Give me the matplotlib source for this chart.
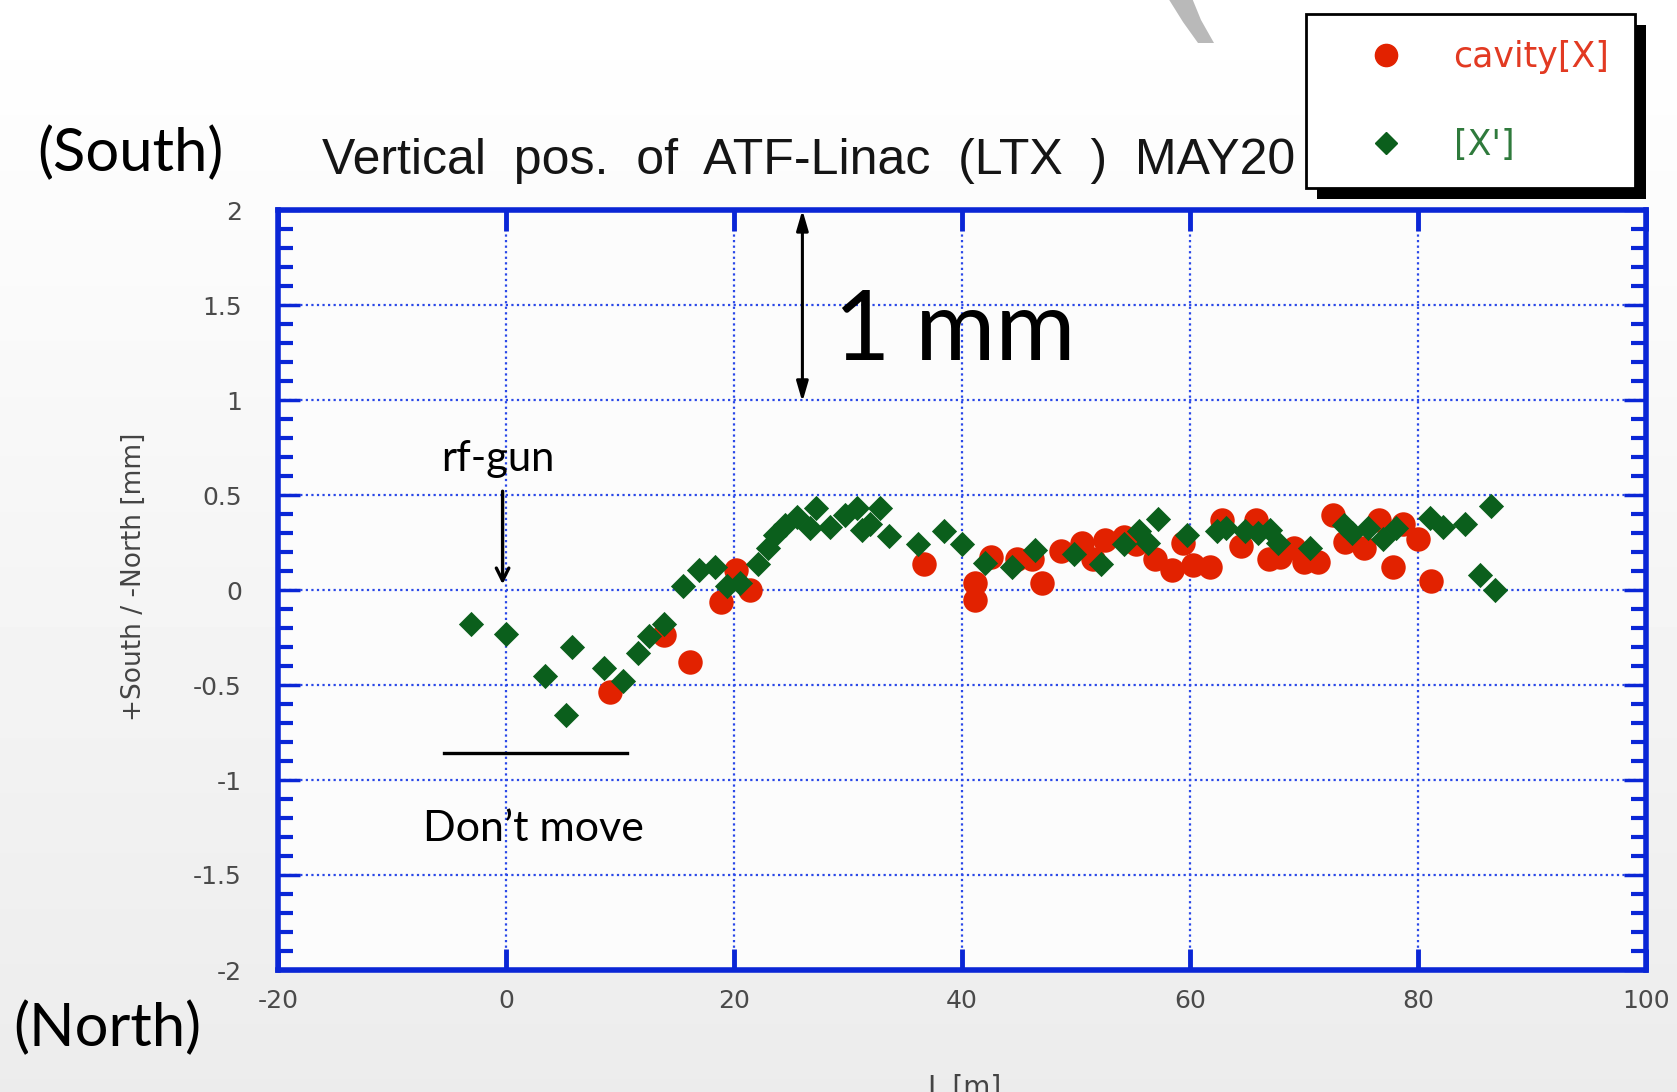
import matplotlib
matplotlib.use("Agg")
import matplotlib.pyplot as plt
import numpy as np
from matplotlib.lines import Line2D
from matplotlib.patches import Rectangle, Polygon

plt.rcParams['axes.unicode_minus'] = False

# cavity[X] (red circles)
cav_x = [9.1, 13.9, 16.1, 18.9, 20.2, 21.4, 36.7, 41.1, 41.1, 42.5, 44.8, 46.1,
         47.0, 48.7, 50.5, 51.5, 52.5, 54.2, 55.3, 56.9, 58.4, 59.4, 60.3, 61.75,
         62.8, 64.5, 65.8, 66.9, 67.9, 69.1, 70.0, 71.2, 72.5, 73.6, 75.3, 76.6,
         77.8, 78.7, 80.0, 81.1]
cav_y = [-0.535, -0.235, -0.38, -0.065, 0.105, 0.0, 0.135, 0.035, -0.05, 0.175, 0.165, 0.165,
         0.035, 0.205, 0.25, 0.165, 0.265, 0.28, 0.24, 0.165, 0.105, 0.245, 0.13, 0.12,
         0.37, 0.23, 0.37, 0.165, 0.175, 0.22, 0.15, 0.15, 0.395, 0.255, 0.22, 0.37,
         0.12, 0.35, 0.27, 0.05]

# [X'] (green diamonds)
xp_x = [-3.1, 0.0, 3.4, 5.8, 5.3, 8.6, 10.3, 11.6, 12.5, 13.9, 15.55, 16.9, 18.3,
        19.35, 20.5, 22.1, 23.0, 23.6, 24.5, 25.5, 26.7, 27.2, 28.4, 29.7, 30.75,
        31.2, 31.9, 32.8, 33.6, 36.1, 38.4, 40.0, 42.0, 44.4, 46.4, 49.8, 52.2,
        54.2, 55.5, 56.3, 57.2, 59.7, 62.4, 63.2, 64.8, 66.0, 67.0, 67.75, 70.5,
        73.5, 74.2, 75.6, 76.9, 78.1, 81.05, 82.2, 84.1, 86.4, 85.4, 86.75]
xp_y = [-0.18, -0.23, -0.45, -0.30, -0.66, -0.41, -0.48, -0.33, -0.24, -0.18, 0.02, 0.105, 0.12,
        0.02, 0.035, 0.135, 0.22, 0.29, 0.34, 0.385, 0.325, 0.43, 0.33, 0.395, 0.43,
        0.315, 0.35, 0.43, 0.285, 0.24, 0.31, 0.24, 0.14, 0.12, 0.21, 0.19, 0.135,
        0.24, 0.31, 0.25, 0.375, 0.29, 0.31, 0.325, 0.31, 0.30, 0.315, 0.245, 0.22,
        0.34, 0.30, 0.325, 0.27, 0.325, 0.38, 0.33, 0.35, 0.44, 0.08, 0.0]

x_ticks = [-20, 0, 20, 40, 60, 80, 100]
y_ticks = [-2, -1.5, -1, -0.5, 0, 0.5, 1, 1.5, 2]
y_ticklabels = ['-2', '-1.5', '-1', '-0.5', '0', '0.5', '1', '1.5', '2']

RED = '#e22200'
GREEN = '#0b5f1c'
BLUE = '#0a26d6'
W, H = 1677, 1092

fig = plt.figure(figsize=(W / 100, H / 100), dpi=100)

# light slide background
bg = fig.add_axes([0, 0, 1, 1], zorder=-10)
grad = np.linspace(1.0, 0.925, 256).reshape(-1, 1)
bg.imshow(grad, aspect='auto', cmap='gray', vmin=0, vmax=1, extent=[0, 1, 0, 1])
bg.set_axis_off()

ax = fig.add_axes([278 / W, 1 - 970 / H, (1646 - 278) / W, (970 - 210) / H])
ax.set_facecolor('#fcfcfc')

ax.scatter(cav_x, cav_y, s=310, c=RED, marker='o', linewidths=0, zorder=3)
ax.scatter(xp_x, xp_y, s=165, c=GREEN, marker='D', linewidths=0, zorder=4)

ax.set_xlim(-20, 100)
ax.set_ylim(-2, 2)
ax.set_xticks(x_ticks)
ax.set_yticks(y_ticks)
ax.set_yticklabels(y_ticklabels)
ax.set_yticks(np.arange(-2, 2.01, 0.1), minor=True)
ax.grid(True, which='major', color='#2a48e8', linestyle=(0, (1, 1.5)), linewidth=1.6)
ax.tick_params(which='both', direction='in', top=True, right=True, color=BLUE,
               labelcolor='#4a4a4a', labelsize=18)
ax.tick_params(axis='y', which='major', length=16, width=2.5, pad=26)
ax.tick_params(axis='y', which='minor', length=11, width=3)
ax.tick_params(axis='x', which='major', length=15, width=3.5, pad=14)
for sp in ax.spines.values():
    sp.set_color(BLUE)
    sp.set_linewidth(4)

# annotations
ax.annotate('', xy=(26, 2.0), xytext=(26, 0.99),
            arrowprops=dict(arrowstyle='<|-|>,head_length=1.2,head_width=0.35',
                            color='black', lw=2.2, shrinkA=0, shrinkB=0), zorder=6)
ax.text(28.8, 1.21, '1 mm', fontsize=70, family=['Lato', 'DejaVu Sans'],
        ha='left', va='baseline', zorder=6)
ax.annotate('', xy=(-0.3, 0.03), xytext=(-0.3, 0.52),
            arrowprops=dict(arrowstyle='->,head_length=0.9,head_width=0.45',
                            color='black', lw=2.4, shrinkA=0, shrinkB=0), zorder=6)
ax.text(-0.7, 0.625, 'rf-gun', fontsize=30, family=['Lato', 'DejaVu Sans'],
        ha='center', va='baseline', zorder=6)
ax.plot([-5.4, 10.6], [-0.86, -0.86], color='black', lw=2.4, zorder=6)
ax.text(2.4, -1.32, 'Don\u2019t move', fontsize=31, family=['Lato', 'DejaVu Sans'],
        ha='center', va='baseline', zorder=6)

fig.text(322 / W, 1 - 174 / H, 'Vertical  pos.  of  ATF-Linac  (LTX  )  MAY20', fontsize=36,
         family=['Liberation Sans', 'DejaVu Sans'],
         color='#151515', ha='left', va='baseline')
fig.text(37 / W, 1 - 171 / H, '(South)', fontsize=43, family=['Lato', 'DejaVu Sans'],
         ha='left', va='baseline')
fig.text(13 / W, 1 - 1046 / H, '(North)', fontsize=43, family=['Lato', 'DejaVu Sans'],
         ha='left', va='baseline')
fig.text(134 / W, 1 - 577 / H, '+South / -North [mm]', rotation=90, fontsize=19,
         color='#444444', ha='center', va='center')
fig.text(965 / W, 1 - 1074 / H, 'L [m]', fontsize=20, color='#444444',
         ha='center', va='top')

# decorative grey stroke at the top of the slide
stroke = Polygon([(1168, H + 2), (1183, H - 22), (1198, H - 43), (1214, H - 43),
                  (1201, H - 20), (1192, H + 2)],
                 closed=True, facecolor='#b9b9b9', edgecolor='none',
                 transform=None, zorder=1)
fig.add_artist(stroke)

# legend with black drop shadow
handles = [Line2D([], [], marker='o', linestyle='none', color=RED, markersize=16),
           Line2D([], [], marker='D', linestyle='none', color=GREEN, markersize=11)]
leg = fig.legend(handles, ['cavity[X]', "[X']"], loc='upper left',
                 bbox_to_anchor=(1306 / W, 1 - 14 / H), borderaxespad=0,
                 fontsize=25, frameon=True, fancybox=False, edgecolor='black',
                 facecolor='white', framealpha=1, labelcolor=['#e23a22', '#2f7a3c'],
                 borderpad=0.75, labelspacing=1.55, handlelength=3.1, handletextpad=0.4)
leg.get_frame().set_linewidth(2)
leg.set_zorder(8)
fig.canvas.draw()
bb = leg.get_window_extent()
shadow = Rectangle((bb.x0 + 11, bb.y0 - 11), bb.width, bb.height, facecolor='black',
                   edgecolor='none', transform=None, zorder=7)
fig.add_artist(shadow)

fig.savefig('out.png', dpi=100)
